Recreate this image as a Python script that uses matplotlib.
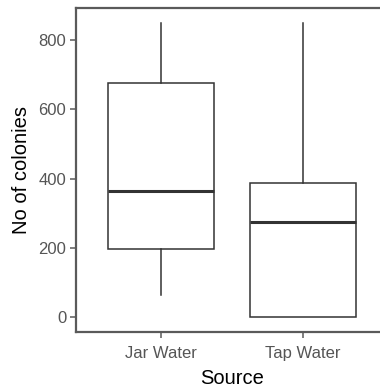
import matplotlib
matplotlib.use("Agg")
import matplotlib.pyplot as plt

plt.rcParams['font.family'] = ['Liberation Sans', 'DejaVu Sans']

sources = ["Jar Water", "Tap Water"]
whislo = [63, 0]
q1 = [197, 0]
med = [364, 276]
q3 = [677, 388]
whishi = [850, 850]
yticks = [0, 200, 400, 600, 800]

stats = []
for i in range(len(sources)):
    stats.append(dict(label=sources[i], whislo=whislo[i], q1=q1[i], med=med[i],
                      q3=q3[i], whishi=whishi[i], fliers=[]))

fig = plt.figure(figsize=(3.8, 3.87), dpi=100)
ax = fig.add_axes([76 / 380, 55 / 387, 312 / 380, 324 / 387])

edge = "#333333"
ax.bxp(stats, positions=[1, 2], widths=0.75, showcaps=False, patch_artist=True,
       boxprops=dict(facecolor="white", edgecolor=edge, linewidth=1.1),
       whiskerprops=dict(color=edge, linewidth=1.1),
       medianprops=dict(color=edge, linewidth=2.2, solid_capstyle="butt"))

ax.set_xlim(0.4, 2.6)
ax.set_ylim(-42.5, 892.5)
ax.set_yticks(yticks)
ax.set_xticks([1, 2])
ax.set_xticklabels(sources)

for s in ["left", "top", "bottom"]:
    ax.spines[s].set_color("#5a5a5a")
    ax.spines[s].set_linewidth(1.6)
ax.spines["right"].set_visible(False)

ax.tick_params(axis="both", colors="#5a5a5a", labelcolor="#555555",
               labelsize=12, length=4, width=1.1, pad=3)
ax.tick_params(axis="x", pad=6)

ax.set_xlabel("Source", fontsize=14.5, color="black", labelpad=6)
ax.set_ylabel("No of colonies", fontsize=14.5, color="black", labelpad=5)

fig.savefig("out.png", dpi=100)
